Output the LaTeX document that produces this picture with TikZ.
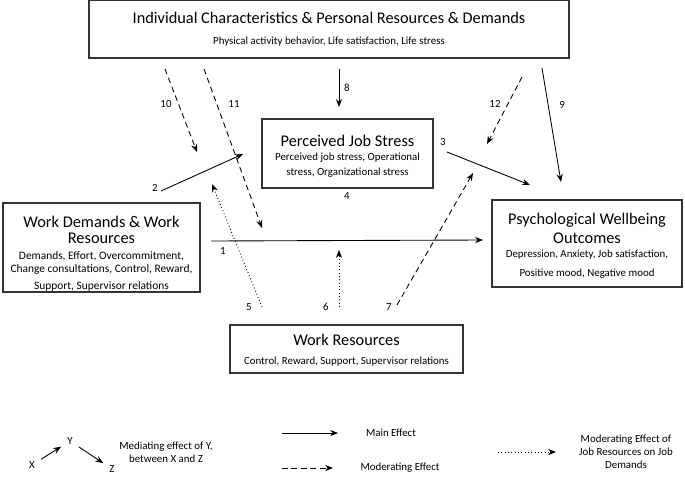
\documentclass[tikz,border=0pt]{standalone}
\usepackage{fontspec}
\setmainfont{Carlito}
\usetikzlibrary{arrows.meta}
\newcommand{\ttl}{\fontsize{9.3}{10}\selectfont}
\newcommand{\dtl}{\fontsize{6.2}{8}\selectfont}
\tikzstyle{arrow} = [line width=0.5pt,->,>={Stealth[length=4.5pt,width=3.5pt]}]
\tikzstyle{box}=[draw=black!80, line width=0.7pt, inner sep=0pt]
\tikzstyle{txt}=[align=center, inner sep=0pt, font=\dtl]
\tikzstyle{num}=[font=\fontsize{6.2}{7.4}\selectfont]
\tikzstyle{mod}=[dash pattern=on 3.2pt off 2.2pt]
\tikzstyle{dot}=[dash pattern=on 0.5pt off 1.4pt]

\begin{document}
\begin{tikzpicture}[x=0.02cm, y=-0.02cm]
    \useasboundingbox (0,0) rectangle (685,480);
    % boxes
    \node (ind) [box, minimum width=480*0.02cm, minimum height=58*0.02cm] at (329,29) {};
    \node (indtxt) [txt] at (329,29.5)
        {{\ttl Individual Characteristics \& Personal Resources \& Demands}\\[4pt]
         Physical activity behavior, Life satisfaction, Life stress};
    \node (dem) [box, minimum width=197*0.02cm, minimum height=89*0.02cm] at (101.5,247.5) {};
    \node (demtxt) [txt, font=\fontsize{6.5}{8}\selectfont] at (101.5,254)
        {{\ttl Work Demands \& Work}\\[1pt] {\ttl Resources}\\[1.1pt]
         Demands, Effort, Overcommitment,\\[-0.5pt] Change consultations, Control, Reward,\\[1.7pt]
         Support, Supervisor relations};
    \node (pjs) [box, minimum width=171*0.02cm, minimum height=69*0.02cm] at (347.5,153.5) {};
    \node (pjstxt) [txt] at (347.5,156.5)
        {{\ttl Perceived Job Stress}\\[0pt]
         Perceived job stress, Operational\\[0.5pt] stress, Organizational stress};
    \node (pwo) [box, minimum width=190*0.02cm, minimum height=87*0.02cm] at (587,243.5) {};
    \node (pwotxt) [txt] at (587,246)
        {{\ttl Psychological Wellbeing}\\[2.8pt] {\ttl Outcomes}\\[0pt]
         Depression, Anxiety, Job satisfaction,\\[2.8pt] Positive mood, Negative mood};
    \node (res) [box, minimum width=233*0.02cm, minimum height=48*0.02cm] at (346.5,349) {};
    \node (restxt) [txt] at (346.5,350)
        {{\ttl Work Resources}\\[2.8pt] Control, Reward, Support, Supervisor relations};

    % arrow ends
    \coordinate (a1s) at (211,241);  \coordinate (a1e) at (483,240);
    \coordinate (a2s) at (161,191);  \coordinate (a2e) at (243,154);
    \coordinate (a3s) at (447,152);  \coordinate (a3e) at (530,185);
    \coordinate (a5s) at (262,307);  \coordinate (a5e) at (212,184);
    \coordinate (a6s) at (339,307);  \coordinate (a6e) at (339,250);
    \coordinate (a7s) at (397,305);  \coordinate (a7e) at (473,173);
    \coordinate (a8s) at (339,69);   \coordinate (a8e) at (339,107);
    \coordinate (a9s) at (542,68);   \coordinate (a9e) at (561,182);
    \coordinate (a10s) at (165,69);  \coordinate (a10e) at (197,152);
    \coordinate (a11s) at (204,69);  \coordinate (a11e) at (262,228);
    \coordinate (a12s) at (522,77);  \coordinate (a12e) at (487,144);

    \draw [arrow] (a1s) -- (a1e);
    \draw [arrow] (a2s) -- (a2e);
    \draw [arrow] (a3s) -- (a3e);
    \draw [arrow] (a8s) -- (a8e);
    \draw [arrow] (a9s) -- (a9e);
    \draw [arrow, mod] (a7s) -- (a7e);
    \draw [arrow, mod] (a10s) -- (a10e);
    \draw [arrow, mod] (a11s) -- (a11e);
    \draw [arrow, mod] (a12s) -- (a12e);
    \draw [arrow, dot] (a5s) -- (a5e);
    \draw [arrow, dot] (a6s) -- (a6e);

    % path numbers
    \node (n1) [num] at (223,251) {1};
    \node (n2) [num] at (155,188) {2};
    \node (n3) [num] at (443,142) {3};
    \node (n4) [num] at (347,196) {4};
    \node (n5) [num] at (249,307) {5};
    \node (n6) [num] at (326,307) {6};
    \node (n7) [num] at (389,307) {7};
    \node (n8) [num] at (347,88) {8};
    \node (n9) [num] at (562,105) {9};
    \node (n10) [num] at (166,104) {10};
    \node (n11) [num] at (234,104) {11};
    \node (n12) [num] at (495,104) {12};

    % legend
    \node (x) [num] at (32,465) {X};
    \node (y) [num] at (70,441) {Y};
    \node (z) [num] at (112,469) {Z};
    \draw [arrow] (x) -- (y);
    \draw [arrow] (y) -- (z);
    \node (medtxt) [num, align=center] at (166,452) {Mediating effect of Y,\\ between X and Z};
    \coordinate (mains) at (282,433);  \coordinate (maine) at (338,433);
    \coordinate (mods) at (282,468);   \coordinate (mode) at (333,468);
    \coordinate (dots) at (498,452);   \coordinate (dote) at (556,452);
    \draw [arrow] (mains) -- (maine);
    \draw [arrow, mod] (mods) -- (mode);
    \draw [arrow, dot] (dots) -- (dote);
    \node (maintxt) [num] at (391,433) {Main Effect};
    \node (modtxt) [num] at (400,468) {Moderating Effect};
    \node (dottxt) [num, align=center] at (626,452) {Moderating Effect of\\ Job Resources on Job\\ Demands};
\end{tikzpicture}
\end{document}
